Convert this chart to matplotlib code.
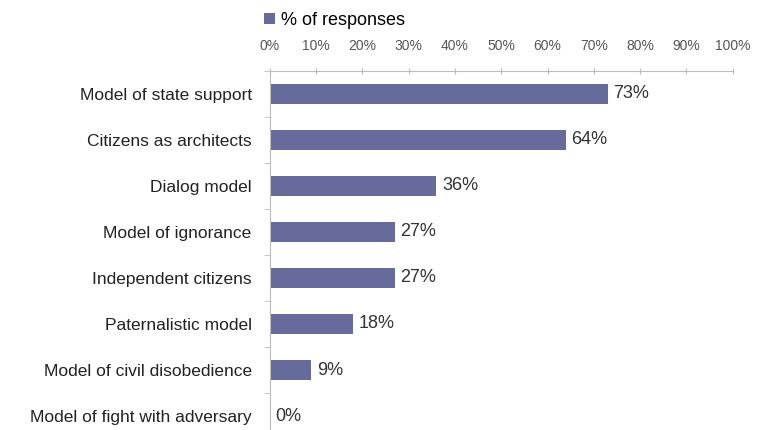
import matplotlib.pyplot as plt
import numpy as np

plt.rcParams['font.family'] = ['Liberation Sans', 'DejaVu Sans']

categories = ['Model of state support', 'Citizens as architects', 'Dialog model',
              'Model of ignorance', 'Independent citizens', 'Paternalistic model',
              'Model of civil disobedience', 'Model of fight with adversary']
values = [73, 64, 36, 27, 27, 18, 9, 0]
ticks = [0, 10, 20, 30, 40, 50, 60, 70, 80, 90, 100]

bar_color = '#676b9c'

fig = plt.figure(figsize=(7.6, 4.3), dpi=100)
ax = fig.add_axes([0.355, 0.0, 0.609, 0.835])

y = np.arange(len(categories))
ax.barh(y, values, height=0.45, color=bar_color, label='% of responses')

for yi, v in zip(y, values):
    ax.text(v + 1.2, yi, f'{v}%', va='center', ha='left', fontsize=13, color='#333333')

ax.set_xlim(0, 100)
ax.set_ylim(7.304, -0.5)
ax.set_yticks(y)
ax.set_yticklabels(categories, fontsize=12.5, color='#222222')
ax.set_yticks(np.arange(-0.5, 7.5, 1), minor=True)
ax.tick_params(axis='y', which='major', length=0, pad=13)
ax.tick_params(axis='y', which='minor', length=4, color='#bbbbbb', direction='out')

ax.xaxis.tick_top()
ax.set_xticks(ticks)
ax.set_xticklabels([f'{t}%' for t in ticks], fontsize=10, color='#555555')
ax.tick_params(axis='x', length=4, direction='inout', color='#bbbbbb', pad=11)

for s in ['right', 'bottom']:
    ax.spines[s].set_visible(False)
ax.spines['top'].set_color('#bbbbbb')
ax.spines['left'].set_color('#bbbbbb')

fig.legend(loc='upper center', bbox_to_anchor=(0.44, 1.01), frameon=False,
           fontsize=13, handlelength=0.6, handleheight=0.6, handletextpad=0.3)

fig.savefig('out.png', dpi=100)
